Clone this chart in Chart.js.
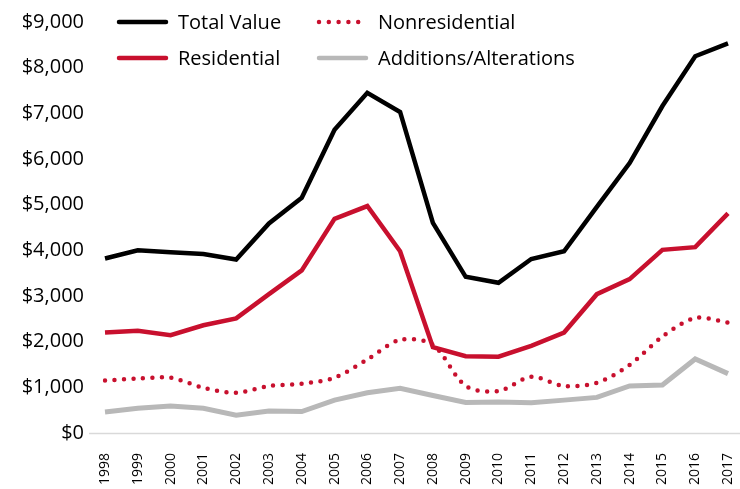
<!DOCTYPE html>
<html>
<head>
<meta charset="utf-8">
<script src="https://cdn.jsdelivr.net/npm/chart.js@4"></script>
<style>
  html, body { margin: 0; padding: 0; background: #fff; }
  #wrap { width: 740px; height: 489px; }
</style>
</head>
<body>
<div id="wrap"><canvas id="grafico"></canvas></div>
<script>
// dados
const anos = ['1998', '1999', '2000', '2001', '2002', '2003', '2004', '2005', '2006', '2007',
              '2008', '2009', '2010', '2011', '2012', '2013', '2014', '2015', '2016', '2017']
const totalValue = [3820, 4000, 3960, 3920, 3800, 4590, 5150, 6640, 7450, 7030,
                    4600, 3420, 3290, 3810, 3980, 4950, 5910, 7160, 8250, 8530]
const residential = [2200, 2240, 2140, 2360, 2510, 3040, 3560, 4690, 4970, 3980,
                     1880, 1680, 1670, 1910, 2200, 3040, 3370, 4010, 4070, 4810]
const nonresidential = [1150, 1190, 1210, 990, 880, 1030, 1080, 1210, 1610, 2040,
                        1930, 1030, 920, 1230, 1030, 1100, 1490, 2110, 2520, 2420]
const additions = [460, 540, 590, 540, 390, 480, 470, 720, 880, 980,
                   820, 670, 680, 660, 720, 780, 1030, 1050, 1620, 1300]
const yTicks = [0, 1000, 2000, 3000, 4000, 5000, 6000, 7000, 8000, 9000]

const fonte = "'Open Sans', sans-serif"
const vermelho = '#c8102e'
const cinza = '#b8b8b8'

// legenda em grade 2x2, desenhada à mão
const legenda = [
  { texto: 'Total Value', cor: '#000', x: 117, y: 22, pontilhado: false },
  { texto: 'Nonresidential', cor: vermelho, x: 317, y: 22, pontilhado: true },
  { texto: 'Residential', cor: vermelho, x: 117, y: 58, pontilhado: false },
  { texto: 'Additions/Alterations', cor: cinza, x: 317, y: 58, pontilhado: false },
]

const extras = {
  id: 'extras',
  beforeDatasetsDraw(chart) {
    const ctx = chart.ctx
    const y0 = Math.round(chart.scales.y.getPixelForValue(0)) + 0.5
    ctx.save()
    ctx.strokeStyle = '#d9d9d9'
    ctx.lineWidth = 1.5
    ctx.beginPath()
    ctx.moveTo(89, y0)
    ctx.lineTo(chart.width, y0)
    ctx.stroke()
    ctx.restore()
  },
  afterDraw(chart) {
    const ctx = chart.ctx
    ctx.save()
    legenda.forEach((item) => {
      ctx.strokeStyle = item.cor
      ctx.lineWidth = 4.5
      ctx.lineCap = 'round'
      ctx.setLineDash(item.pontilhado ? [0, 9.8] : [])
      ctx.beginPath()
      ctx.moveTo(item.x + 2, item.y)
      ctx.lineTo(item.x + 49, item.y)
      ctx.stroke()
      ctx.fillStyle = '#000'
      ctx.font = '20px ' + fonte
      ctx.textBaseline = 'middle'
      ctx.fillText(item.texto, item.x + 61, item.y + 1)
    })
    ctx.restore()
  }
}

const linha = (label, data, cor, extra) => Object.assign({
  label: label,
  data: data,
  borderColor: cor,
  backgroundColor: cor,
  borderWidth: 4.5,
  pointRadius: 0,
  tension: 0,
  fill: false,
}, extra || {})

const data = {
  labels: anos,
  datasets: [
    linha('Total Value', totalValue, '#000'),
    linha('Residential', residential, vermelho),
    linha('Nonresidential', nonresidential, vermelho, { borderDash: [0, 9.5], borderCapStyle: 'round', tension: 0.3 }),
    linha('Additions/Alterations', additions, cinza, { borderWidth: 5 }),
  ]
}

const config = {
  type: 'line',
  data: data,
  options: {
    responsive: true,
    maintainAspectRatio: false,
    animation: false,
    layout: { padding: { top: 22, right: 12, bottom: 0, left: 0 } },
    plugins: {
      legend: { display: false },
      tooltip: { enabled: false }
    },
    scales: {
      x: {
        offset: false,
        grid: { display: false, drawTicks: false },
        border: { display: false },
        ticks: {
          color: '#000',
          font: { family: fonte, size: 14 },
          minRotation: 90,
          maxRotation: 90,
          autoSkip: false,
          padding: 20
        },
        afterFit: (scale) => {
          scale.height = 56
          scale.paddingLeft = 0
          scale.paddingRight = 0
        }
      },
      y: {
        min: 0,
        max: 9000,
        grid: { display: false, drawTicks: false },
        border: { display: false },
        afterBuildTicks: (scale) => { scale.ticks = yTicks.map(v => ({ value: v })) },
        ticks: {
          color: '#000',
          font: { family: fonte, size: 20 },
          padding: 21,
          callback: (v) => '$' + v.toLocaleString('en-US')
        },
        afterFit: (scale) => {
          scale.width = 105
          scale.paddingTop = 0
          scale.paddingBottom = 0
        }
      }
    }
  },
  plugins: [extras]
}

new Chart(document.getElementById('grafico'), config)
</script>
</body>
</html>
